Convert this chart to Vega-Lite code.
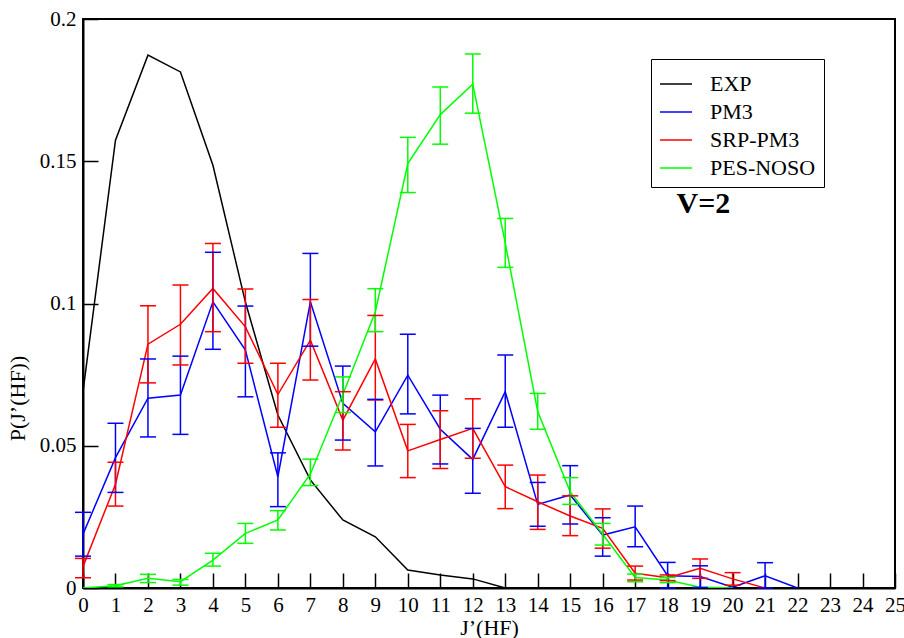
{
  "$schema": "https://vega.github.io/schema/vega-lite/v6.json",
  "autosize": "none",
  "width": 812,
  "height": 569,
  "padding": {"left": 83, "top": 19, "right": 9, "bottom": 50},
  "background": "white",
  "config": {
    "font": "Liberation Serif, Times New Roman, serif",
    "view": {"stroke": "black", "strokeWidth": 2},
    "axis": {
      "labelFont": "Liberation Serif, Times New Roman, serif",
      "titleFont": "Liberation Serif, Times New Roman, serif",
      "labelFontSize": 21,
      "titleFontSize": 22,
      "titleFontWeight": "normal",
      "labelColor": "black",
      "titleColor": "black",
      "domainColor": "black",
      "domainWidth": 2,
      "tickColor": "black",
      "tickWidth": 1.5,
      "grid": false
    },
    "legend": {"labelFont": "Liberation Serif, Times New Roman, serif"}
  },
  "datasets": {
    "curves": [
      {"J": 0, "series": "EXP", "p": 0.069},
      {"J": 1, "series": "EXP", "p": 0.1574},
      {"J": 2, "series": "EXP", "p": 0.1873},
      {"J": 3, "series": "EXP", "p": 0.1814},
      {"J": 4, "series": "EXP", "p": 0.1486},
      {"J": 5, "series": "EXP", "p": 0.1005},
      {"J": 6, "series": "EXP", "p": 0.0608},
      {"J": 7, "series": "EXP", "p": 0.038},
      {"J": 8, "series": "EXP", "p": 0.0239},
      {"J": 9, "series": "EXP", "p": 0.018},
      {"J": 10, "series": "EXP", "p": 0.0063},
      {"J": 11, "series": "EXP", "p": 0.0046},
      {"J": 12, "series": "EXP", "p": 0.0032},
      {"J": 13, "series": "EXP", "p": 0},
      {"J": 14, "series": "EXP", "p": 0},
      {"J": 15, "series": "EXP", "p": 0},
      {"J": 16, "series": "EXP", "p": 0},
      {"J": 17, "series": "EXP", "p": 0},
      {"J": 18, "series": "EXP", "p": 0},
      {"J": 19, "series": "EXP", "p": 0},
      {"J": 20, "series": "EXP", "p": 0},
      {"J": 21, "series": "EXP", "p": 0},
      {"J": 22, "series": "EXP", "p": 0},
      {"J": 23, "series": "EXP", "p": 0},
      {"J": 24, "series": "EXP", "p": 0},
      {"J": 25, "series": "EXP", "p": 0},

      {"J": 0, "series": "PM3", "p": 0.0189, "lo": 0.0112, "hi": 0.0266},
      {"J": 1, "series": "PM3", "p": 0.0458, "lo": 0.0336, "hi": 0.0579},
      {"J": 2, "series": "PM3", "p": 0.0667, "lo": 0.0531, "hi": 0.0805},
      {"J": 3, "series": "PM3", "p": 0.0678, "lo": 0.054, "hi": 0.0815},
      {"J": 4, "series": "PM3", "p": 0.1006, "lo": 0.0839, "hi": 0.118},
      {"J": 5, "series": "PM3", "p": 0.0836, "lo": 0.0672, "hi": 0.0991},
      {"J": 6, "series": "PM3", "p": 0.0391, "lo": 0.0286, "hi": 0.0475},
      {"J": 7, "series": "PM3", "p": 0.1006, "lo": 0.085, "hi": 0.1176},
      {"J": 8, "series": "PM3", "p": 0.0649, "lo": 0.052, "hi": 0.078},
      {"J": 9, "series": "PM3", "p": 0.0549, "lo": 0.0429, "hi": 0.0663},
      {"J": 10, "series": "PM3", "p": 0.0748, "lo": 0.0612, "hi": 0.0892},
      {"J": 11, "series": "PM3", "p": 0.0558, "lo": 0.0436, "hi": 0.0678},
      {"J": 12, "series": "PM3", "p": 0.0452, "lo": 0.0333, "hi": 0.0561},
      {"J": 13, "series": "PM3", "p": 0.069, "lo": 0.0565, "hi": 0.0819},
      {"J": 14, "series": "PM3", "p": 0.0294, "lo": 0.0217, "hi": 0.0371},
      {"J": 15, "series": "PM3", "p": 0.0327, "lo": 0.0225, "hi": 0.043},
      {"J": 16, "series": "PM3", "p": 0.0186, "lo": 0.0112, "hi": 0.0247},
      {"J": 17, "series": "PM3", "p": 0.0215, "lo": 0.0145, "hi": 0.0288},
      {"J": 18, "series": "PM3", "p": 0.0043, "lo": 0.0, "hi": 0.009},
      {"J": 19, "series": "PM3", "p": 0.004, "lo": 0.0002, "hi": 0.0078},
      {"J": 20, "series": "PM3", "p": 0.0003},
      {"J": 21, "series": "PM3", "p": 0.0043, "lo": 0.0, "hi": 0.0089},
      {"J": 22, "series": "PM3", "p": 0},

      {"J": 0, "series": "SRP-PM3", "p": 0.0075, "lo": 0.0036, "hi": 0.0104},
      {"J": 1, "series": "SRP-PM3", "p": 0.0365, "lo": 0.0288, "hi": 0.0442},
      {"J": 2, "series": "SRP-PM3", "p": 0.0857, "lo": 0.0721, "hi": 0.0992},
      {"J": 3, "series": "SRP-PM3", "p": 0.0927, "lo": 0.0784, "hi": 0.1065},
      {"J": 4, "series": "SRP-PM3", "p": 0.1053, "lo": 0.0901, "hi": 0.1211},
      {"J": 5, "series": "SRP-PM3", "p": 0.0918, "lo": 0.079, "hi": 0.1051},
      {"J": 6, "series": "SRP-PM3", "p": 0.068, "lo": 0.0565, "hi": 0.079},
      {"J": 7, "series": "SRP-PM3", "p": 0.0871, "lo": 0.0731, "hi": 0.1014},
      {"J": 8, "series": "SRP-PM3", "p": 0.059, "lo": 0.0485, "hi": 0.069},
      {"J": 9, "series": "SRP-PM3", "p": 0.0805, "lo": 0.0661, "hi": 0.0958},
      {"J": 10, "series": "SRP-PM3", "p": 0.0482, "lo": 0.0388, "hi": 0.0575},
      {"J": 11, "series": "SRP-PM3", "p": 0.0522, "lo": 0.042, "hi": 0.0623},
      {"J": 12, "series": "SRP-PM3", "p": 0.0561, "lo": 0.0456, "hi": 0.0665},
      {"J": 13, "series": "SRP-PM3", "p": 0.0356, "lo": 0.0279, "hi": 0.0432},
      {"J": 14, "series": "SRP-PM3", "p": 0.0303, "lo": 0.0206, "hi": 0.0397},
      {"J": 15, "series": "SRP-PM3", "p": 0.0253, "lo": 0.0184, "hi": 0.0324},
      {"J": 16, "series": "SRP-PM3", "p": 0.021, "lo": 0.014, "hi": 0.0278},
      {"J": 17, "series": "SRP-PM3", "p": 0.0052, "lo": 0.0028, "hi": 0.0077},
      {"J": 18, "series": "SRP-PM3", "p": 0.0036, "lo": 0.0026, "hi": 0.0046},
      {"J": 19, "series": "SRP-PM3", "p": 0.0069, "lo": 0.0034, "hi": 0.0102},
      {"J": 20, "series": "SRP-PM3", "p": 0.0032, "lo": 0.001, "hi": 0.0054},
      {"J": 21, "series": "SRP-PM3", "p": 0},

      {"J": 0, "series": "PES-NOSO", "p": 0},
      {"J": 1, "series": "PES-NOSO", "p": 0.0008, "lo": 0.0004, "hi": 0.0012},
      {"J": 2, "series": "PES-NOSO", "p": 0.0034, "lo": 0.0019, "hi": 0.0048},
      {"J": 3, "series": "PES-NOSO", "p": 0.0022, "lo": 0.001, "hi": 0.003},
      {"J": 4, "series": "PES-NOSO", "p": 0.0098, "lo": 0.0077, "hi": 0.0122},
      {"J": 5, "series": "PES-NOSO", "p": 0.0192, "lo": 0.0157, "hi": 0.0227},
      {"J": 6, "series": "PES-NOSO", "p": 0.0239, "lo": 0.0204, "hi": 0.0272},
      {"J": 7, "series": "PES-NOSO", "p": 0.0401, "lo": 0.036, "hi": 0.0453},
      {"J": 8, "series": "PES-NOSO", "p": 0.068, "lo": 0.0617, "hi": 0.0742},
      {"J": 9, "series": "PES-NOSO", "p": 0.0971, "lo": 0.0901, "hi": 0.1052},
      {"J": 10, "series": "PES-NOSO", "p": 0.1492, "lo": 0.139, "hi": 0.1584},
      {"J": 11, "series": "PES-NOSO", "p": 0.1664, "lo": 0.156, "hi": 0.1761},
      {"J": 12, "series": "PES-NOSO", "p": 0.1771, "lo": 0.1669, "hi": 0.1877},
      {"J": 13, "series": "PES-NOSO", "p": 0.1213, "lo": 0.1127, "hi": 0.1299},
      {"J": 14, "series": "PES-NOSO", "p": 0.062, "lo": 0.0558, "hi": 0.0684},
      {"J": 15, "series": "PES-NOSO", "p": 0.0338, "lo": 0.0294, "hi": 0.0388},
      {"J": 16, "series": "PES-NOSO", "p": 0.0189, "lo": 0.0151, "hi": 0.0227},
      {"J": 17, "series": "PES-NOSO", "p": 0.0037, "lo": 0.0022, "hi": 0.0049},
      {"J": 18, "series": "PES-NOSO", "p": 0.0028, "lo": 0.0019, "hi": 0.0037},
      {"J": 19, "series": "PES-NOSO", "p": 0.0003},
      {"J": 20, "series": "PES-NOSO", "p": 0}
    ],
    "notes": [
      {"J": 19.1, "p": 0.1348, "label": "V=2"}
    ]
  },
  "encoding": {
    "x": {
      "field": "J", "type": "quantitative",
      "scale": {"domain": [0, 25], "nice": false, "zero": false},
      "axis": {
        "title": "J’(HF)",
        "values": [0,1,2,3,4,5,6,7,8,9,10,11,12,13,14,15,16,17,18,19,20,21,22,23,24,25],
        "tickSize": -15,
        "labelPadding": 21,
        "labelFlush": false,
        "labelOverlap": false,
        "titleBaseline": "alphabetic",
        "titleY": 46
      }
    }
  },
  "layer": [
    {
      "data": {"name": "curves"},
      "mark": {"type": "line", "strokeWidth": 1.5, "clip": true},
      "encoding": {
        "y": {
          "field": "p", "type": "quantitative",
          "scale": {"domain": [0, 0.2], "nice": false},
          "axis": {
            "title": "P(J’(HF))",
            "values": [0, 0.05, 0.1, 0.15, 0.2],
            "format": ".2~f",
            "tickSize": -15,
            "labelPadding": 22,
            "labelFlush": false,
            "titleAngle": -90,
            "titleBaseline": "alphabetic",
            "titleX": -59,
            "titleY": 379
          }
        },
        "color": {
          "field": "series", "type": "nominal",
          "scale": {"domain": ["EXP", "PM3", "SRP-PM3", "PES-NOSO"], "range": ["#000000", "#0000ff", "#ff0000", "#00ff00"]},
          "legend": {
            "title": null,
            "orient": "none",
            "legendX": 568,
            "legendY": 40,
            "direction": "vertical",
            "symbolType": "stroke",
            "symbolSize": 1024,
            "symbolStrokeWidth": 1.5,
            "labelFontSize": 22,
            "labelColor": "black",
            "labelOffset": 17,
            "rowPadding": -10,
            "padding": 8,
            "strokeColor": "black",
            "fillColor": "white"
          }
        },
        "order": {"field": "J", "type": "quantitative"}
      }
    },
    {
      "data": {"name": "curves"},
      "transform": [{"filter": "isValid(datum.lo)"}],
      "mark": {"type": "rule", "strokeWidth": 1.5},
      "encoding": {
        "y": {"field": "lo", "type": "quantitative"},
        "y2": {"field": "hi"},
        "color": {"field": "series", "type": "nominal"}
      }
    },
    {
      "data": {"name": "curves"},
      "transform": [{"filter": "isValid(datum.lo)"}],
      "mark": {"type": "tick", "orient": "horizontal", "size": 16, "thickness": 1.5, "opacity": 1},
      "encoding": {
        "y": {"field": "lo", "type": "quantitative"},
        "color": {"field": "series", "type": "nominal"}
      }
    },
    {
      "data": {"name": "curves"},
      "transform": [{"filter": "isValid(datum.hi)"}],
      "mark": {"type": "tick", "orient": "horizontal", "size": 16, "thickness": 1.5, "opacity": 1},
      "encoding": {
        "y": {"field": "hi", "type": "quantitative"},
        "color": {"field": "series", "type": "nominal"}
      }
    },
    {
      "data": {"name": "notes"},
      "mark": {"type": "text", "font": "Liberation Serif", "fontSize": 30, "fontWeight": "bold", "align": "center", "baseline": "middle", "fill": "black"},
      "encoding": {
        "y": {"field": "p", "type": "quantitative"},
        "text": {"field": "label"}
      }
    }
  ]
}
